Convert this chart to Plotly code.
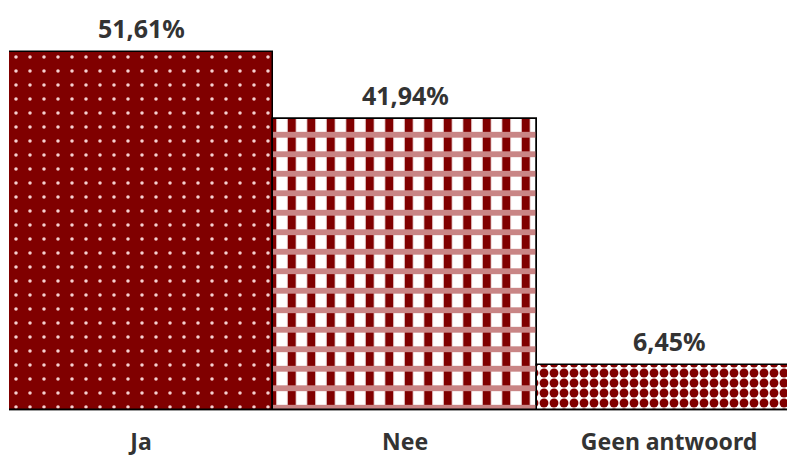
import plotly.graph_objects as go

categories = ['Ja', 'Nee', 'Geen antwoord']
values = [51.61, 41.94, 6.45]

maroon = '#800000'
txt = '#333333'
font_fam = 'Noto Sans, Open Sans, sans-serif'

# one pattern per bar: (shape, fg, bg, size, solidity)
styles = [
    ('.', '#f5d0d0', maroon, 14, 0.05),
    ('|', maroon, 'white', 19.5, 0.42),
    ('.', maroon, 'white', 10, 0.62),
]

fig = go.Figure()
for c, v, st in zip(categories, values, styles):
    shape, fg, bg, sz, sol = st
    fig.add_trace(go.Bar(
        x=[c], y=[v],
        marker=dict(
            color=bg,
            line=dict(color='black', width=1.5),
            pattern=dict(shape=shape, fgcolor=fg, bgcolor=bg, size=sz,
                         solidity=sol, fillmode='replace'),
        ),
        hoverinfo='skip',
    ))

# pink horizontal bands on top of "Nee" (gingham look)
fig.add_trace(go.Bar(
    x=[categories[1]], y=[values[1]],
    marker=dict(
        color='rgba(0,0,0,0)',
        line=dict(color='black', width=1.5),
        pattern=dict(shape='-', fgcolor='#c98585', bgcolor='rgba(0,0,0,0)',
                     size=19.5, solidity=0.3, fillmode='replace'),
    ),
    hoverinfo='skip',
))

for c, v in zip(categories, values):
    fig.add_annotation(
        x=c, y=v, text=f'<b>{v:.2f}%</b>'.replace('.', ','),
        showarrow=False, yanchor='bottom', yshift=5,
        font=dict(family=font_fam, size=25, color=txt),
    )

# page body has an 8px margin, so the figure is shrunk by that much
fig.update_layout(
    width=787, height=448,
    barmode='overlay', bargap=0,
    showlegend=False,
    plot_bgcolor='white', paper_bgcolor='white',
    margin=dict(l=1, r=0, t=0, b=46),
)
fig.update_xaxes(
    range=[-0.5, 2.477], showgrid=False, automargin=False,
    showline=True, linecolor='#999999', linewidth=1,
    ticks='outside', ticklen=11, tickcolor='rgba(0,0,0,0)',
    tickfont=dict(family=font_fam, size=23, color=txt),
    tickvals=categories, ticktext=[f'<b>{c}</b>' for c in categories],
)
fig.update_yaxes(range=[0, 58.0], visible=False, showgrid=False)

fig.write_html('out.html')
